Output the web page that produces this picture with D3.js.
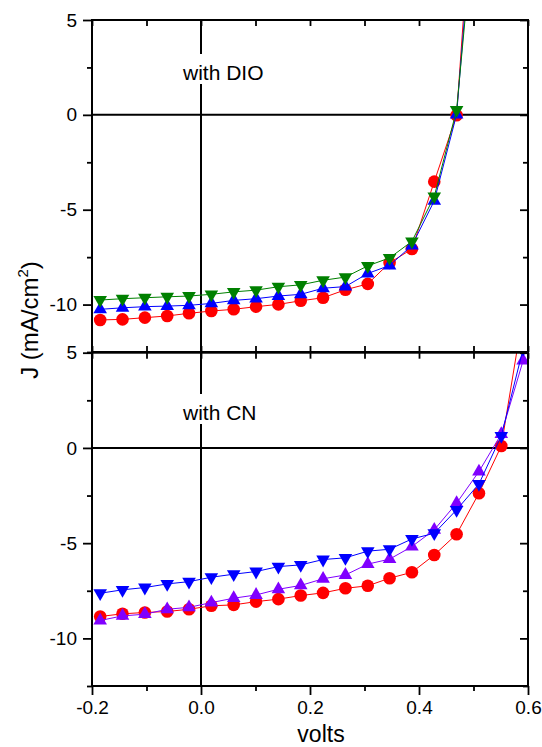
<!DOCTYPE html>
<html><head><meta charset="utf-8">
<script src="https://cdn.jsdelivr.net/npm/d3@7"></script>
<style>
body{margin:0;background:#fff}
text{font-family:"Liberation Sans",Arial,Helvetica,sans-serif;fill:#000}
</style>
</head><body>
<svg id="c" width="542" height="747"></svg>
<script>
// ---- data ----
const volts = [-0.185,-0.144,-0.103,-0.062,-0.022,0.019,0.060,0.101,0.142,0.183,0.224,0.265,0.306,0.346,0.387,0.428,0.469,0.510,0.551,0.591];

// top panel: with DIO
const dioRed   = [-10.81,-10.78,-10.69,-10.60,-10.46,-10.34,-10.25,-10.11,-9.99,-9.80,-9.64,-9.22,-8.91,-7.80,-7.07,-3.52,-0.02,16.8];
const dioBlue  = [-10.25,-10.17,-10.11,-10.08,-10.04,-9.94,-9.78,-9.69,-9.55,-9.46,-9.14,-9.05,-8.36,-7.94,-6.89,-4.53,0.02,14.5];
const dioGreen = [-9.76,-9.69,-9.64,-9.59,-9.55,-9.46,-9.33,-9.24,-9.06,-8.96,-8.72,-8.55,-7.96,-7.54,-6.67,-4.30,0.26,12.9];

// bottom panel: with CN
const cnRed    = [-8.85,-8.71,-8.64,-8.59,-8.47,-8.29,-8.24,-8.07,-7.94,-7.75,-7.61,-7.37,-7.24,-6.84,-6.53,-5.62,-4.53,-2.38,0.10,7.06];
const cnPurple = [-9.06,-8.82,-8.73,-8.47,-8.37,-8.12,-7.89,-7.72,-7.42,-7.22,-6.87,-6.67,-6.10,-5.84,-5.18,-4.30,-2.90,-1.24,0.73,4.58];
const cnBlue   = [-7.63,-7.45,-7.33,-7.14,-7.02,-6.79,-6.63,-6.49,-6.23,-6.14,-5.86,-5.77,-5.42,-5.32,-4.78,-4.48,-3.25,-1.89,0.63,5.2];

const yMajor = [-10,-5,0,5];
const yMinor = [-12.5,-7.5,-2.5,2.5];
const xMajor = [-0.2,0.0,0.2,0.4,0.6];
const xMinor = [-0.1,0.1,0.3,0.5];
const xDomain = [-0.2,0.6];
const yDomain = [-12.5,5];
const panelLabels = ["with DIO","with CN"];
const xTitle = "volts";

// ---- layout ----
const svg = d3.select("#c");
const L = 92, R = 528;
const x = d3.scaleLinear().domain(xDomain).range([L,R]);

const panels = [
  {label: panelLabels[0], top: 20, bottom: 352, labelY: 80,
   series: [{v: dioRed, c: "#ff0000", s: "circle"},
            {v: dioBlue, c: "#0000ff", s: "up"},
            {v: dioGreen, c: "#008000", s: "down"}]},
  {label: panelLabels[1], top: 352.7, bottom: 686, labelY: 420,
   series: [{v: cnRed, c: "#ff0000", s: "circle"},
            {v: cnPurple, c: "#8000ff", s: "up"},
            {v: cnBlue, c: "#0000ff", s: "down"}]}
];

const triSize = 80;
const fmtY = d => String(d);
const fmtX = d => d.toFixed(1);

panels.forEach((p, pi) => {
  const y = d3.scaleLinear().domain(yDomain).range([p.bottom, p.top]);
  const g = svg.append("g");
  const clipId = "clip" + pi;
  svg.append("clipPath").attr("id", clipId).append("rect")
     .attr("x", L).attr("y", p.top).attr("width", R - L).attr("height", p.bottom - p.top);

  // zero lines
  g.append("line").attr("x1", L).attr("x2", R).attr("y1", y(0)).attr("y2", y(0))
   .attr("stroke", "#000").attr("stroke-width", 2);
  g.append("line").attr("x1", x(0)).attr("x2", x(0)).attr("y1", p.top).attr("y2", p.bottom)
   .attr("stroke", "#000").attr("stroke-width", 2);

  // label with white background
  const lt = g.append("text").attr("x", 183).attr("y", p.labelY)
    .attr("font-size", 21).text(p.label);
  const bb = lt.node().getBBox();
  g.insert("rect", "text").attr("x", bb.x - 4).attr("y", p.labelY - 26)
    .attr("width", bb.width + 8).attr("height", 30).attr("fill", "#fff");

  // data
  const dg = g.append("g").attr("clip-path", `url(#${clipId})`);
  p.series.forEach(s => {
    const pts = s.v.map((d, i) => [volts[i], d]);
    dg.append("path").datum(pts)
      .attr("fill", "none").attr("stroke", s.c).attr("stroke-width", 1)
      .attr("d", d3.line().x(d => x(d[0])).y(d => y(d[1])));
    const sym = s.s === "circle" ? d3.symbol().type(d3.symbolCircle).size(Math.PI * 6.3 * 6.3)
                                 : d3.symbol().type(d3.symbolTriangle).size(triSize);
    dg.selectAll(null).data(pts).enter().append("path")
      .attr("d", sym)
      .attr("fill", s.c)
      .attr("transform", d => `translate(${x(d[0])},${y(d[1])})` + (s.s === "down" ? " rotate(180)" : ""));
  });

  // axes
  const axStyle = sel => {
    sel.select(".domain").remove();
    sel.selectAll(".tick line").attr("stroke-width", 1.8);
    sel.selectAll(".tick text").attr("font-size", 19)
       .attr("font-family", '"Liberation Sans",Arial,sans-serif');
  };
  g.append("g").attr("transform", `translate(${L},0)`)
    .call(d3.axisLeft(y).tickValues(yMajor).tickSize(9).tickPadding(6).tickFormat(fmtY)).call(axStyle);
  g.append("g").attr("transform", `translate(${L},0)`)
    .call(d3.axisLeft(y).tickValues(yMinor).tickSize(5).tickFormat("")).call(axStyle);
  g.append("g").attr("transform", `translate(${R},0)`)
    .call(d3.axisLeft(y).tickValues(yMajor).tickSize(8).tickFormat("")).call(axStyle);
  g.append("g").attr("transform", `translate(${R},0)`)
    .call(d3.axisLeft(y).tickValues(yMinor).tickSize(5).tickFormat("")).call(axStyle);
  g.append("g").attr("transform", `translate(0,${p.top})`)
    .call(d3.axisBottom(x).tickValues(xMajor.concat(xMinor)).tickSize(6).tickFormat("")).call(axStyle);
  if (pi === 0) {
    g.append("g").attr("transform", `translate(0,${p.bottom})`)
      .call(d3.axisTop(x).tickValues(xMajor.concat(xMinor)).tickSize(6).tickFormat("")).call(axStyle);
  } else {
    g.append("g").attr("transform", `translate(0,${p.bottom})`)
      .call(d3.axisBottom(x).tickValues(xMajor).tickSize(9).tickPadding(6).tickFormat(fmtX)).call(axStyle);
    g.append("g").attr("transform", `translate(0,${p.bottom})`)
      .call(d3.axisBottom(x).tickValues(xMinor).tickSize(5).tickFormat("")).call(axStyle);
  }

  // frame
  g.append("rect").attr("x", L).attr("y", p.top).attr("width", R - L).attr("height", p.bottom - p.top)
   .attr("fill", "none").attr("stroke", "#000").attr("stroke-width", 2);
});

// axis titles
svg.append("text").attr("x", 321).attr("y", 742).attr("text-anchor", "middle")
   .attr("font-size", 23).text(xTitle);
const yt = svg.append("text").attr("transform", "translate(38,320) rotate(-90)")
   .attr("text-anchor", "middle").attr("font-size", 24);
yt.append("tspan").text("J (mA/cm");
yt.append("tspan").attr("font-size", 15).attr("dy", -10).text("2");
yt.append("tspan").attr("dy", 10).text(")");
</script>
</body></html>
